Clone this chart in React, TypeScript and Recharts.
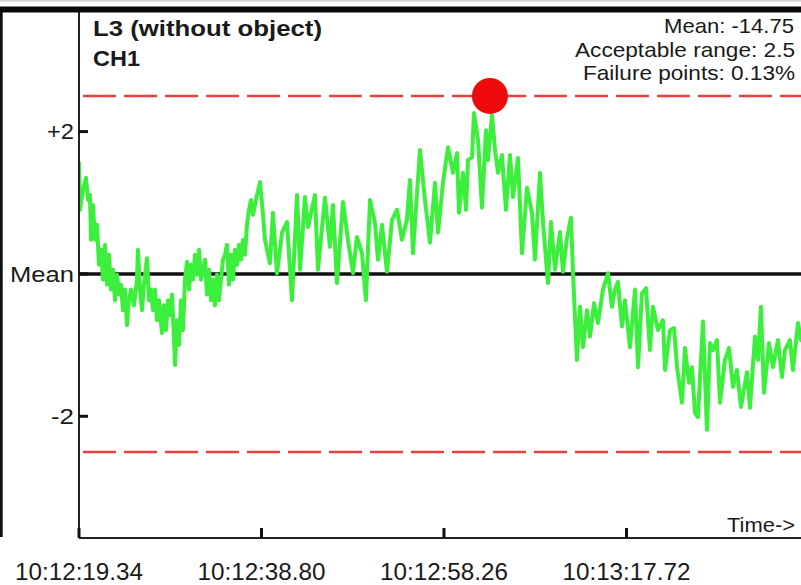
import React from "react";
import { LineChart, Line, XAxis, YAxis, ReferenceLine, ReferenceDot } from "recharts";

// elapsed seconds since 10:12:19.34
const sampleTimes = [
  0, 0.11, 0.43, 0.75, 0.96, 1.17, 1.28, 1.49, 1.71, 1.92, 2.13, 2.35, 2.56, 2.77, 2.99, 3.2, 3.41, 3.63, 3.84, 4.05,
  4.26, 4.48, 4.69, 4.9, 5.12, 5.33, 5.54, 5.86, 6.18, 6.29, 6.5, 6.72, 6.93, 7.25, 7.46, 7.68, 7.89, 8.1, 8.32, 8.53,
  8.85, 9.06, 9.28, 9.49, 9.7, 9.92, 10.13, 10.24, 10.45, 10.66, 10.88, 11.09, 11.3, 11.52, 11.73, 11.94, 12.16, 12.37, 12.58, 12.8,
  13.01, 13.22, 13.44, 13.65, 13.86, 14.08, 14.29, 14.5, 14.71, 14.93, 15.14, 15.35, 15.57, 15.78, 15.99, 16.21, 16.42, 16.63, 16.85, 17.06,
  17.27, 17.49, 17.7, 17.91, 18.13, 18.34, 18.55, 18.87, 19.3, 19.62, 19.83, 20.36, 20.68, 21.11, 21.65, 22.18, 22.71, 23.25, 23.57, 24.1,
  24.42, 25.16, 25.48, 26.23, 26.76, 27.08, 27.51, 28.15, 28.68, 29.22, 29.64, 30.18, 30.6, 31.03, 31.56, 31.88, 32.31, 32.84, 33.38, 33.91,
  34.44, 34.97, 35.29, 35.61, 36.36, 36.89, 37.43, 37.96, 38.28, 38.81, 39.35, 39.88, 40.31, 40.52, 40.95, 41.27, 41.48, 41.91, 42.12, 42.55,
  42.97, 43.4, 43.61, 44.04, 44.36, 44.68, 45.1, 45.53, 45.96, 46.28, 46.81, 47.24, 47.77, 48.3, 48.62, 49.16, 49.48, 50.01, 50.33, 50.76,
  51.29, 51.61, 52.04, 52.46, 52.68, 53.1, 53.42, 53.74, 54.17, 54.49, 54.92, 55.34, 55.87, 56.41, 56.83, 57.15, 57.47, 57.9, 58.22, 58.75,
  59.29, 59.61, 60.03, 60.46, 60.88, 61.2, 61.74, 62.27, 62.49, 63.02, 63.45, 63.77, 64.3, 64.62, 65.04, 65.36, 65.68, 66.0, 66.54, 66.96,
  67.28, 67.6, 68.03, 68.35, 68.88, 69.31, 69.74, 70.16, 70.59, 71.23, 71.55, 72.08, 72.4, 72.72, 73.04, 73.58, 74.0, 74.53, 74.96, 75.28,
  75.81, 76.13, 76.67, 76.99,
];

// deviation from mean (in acceptable-range units)
const deviation = [
  1.56, 0.9, 1.18, 1.35, 1.04, 1.11, 0.48, 0.97, 0.48, 0.69, 0.13, 0.34, -0.08, 0.41, -0.15, 0.27, -0.22, 0.06, -0.37, -0.01,
  -0.29, -0.15, -0.51, -0.22, -0.72, -0.37, -0.22, -0.44, -0.08, 0.34, -0.22, -0.51, -0.15, 0.22, -0.37, -0.22, -0.51, -0.22, -0.65, -0.37,
  -0.83, -0.44, -0.79, -0.37, -0.58, -0.29, -0.93, -1.28, -0.65, -1.0, -0.37, -0.79, -0.08, 0.17, -0.22, 0.13, -0.08, 0.27, -0.01, 0.34,
  -0.08, 0.06, 0.2, -0.29, 0.06, -0.37, -0.08, -0.44, -0.01, -0.37, -0.08, 0.2, 0.27, 0.41, -0.15, 0.27, -0.08, 0.34, 0.13, 0.41,
  0.2, 0.48, 0.27, 0.69, 0.9, 1.04, 0.83, 1.04, 1.29, 0.83, 0.48, 0.15, 0.86, 0.01, 0.58, 0.73, -0.37, 1.11, 0.06, 1.08,
  0.66, 1.11, 0.06, 1.07, 0.38, 0.97, -0.13, 1.01, 0.48, 0.01, 0.52, 0.29, -0.37, 1.04, 0.72, 0.2, 0.69, 0.03, 0.76, 0.9,
  0.48, 0.76, 1.32, 0.29, 1.74, 1.04, 0.44, 1.28, 0.58, 1.28, 1.78, 1.42, 1.7, 0.86, 1.42, 0.9, 1.6, 1.64, 2.26, 1.88,
  0.93, 2.02, 1.6, 2.23, 1.74, 1.42, 1.67, 0.9, 1.67, 1.08, 1.63, 0.29, 1.21, 0.86, 0.2, 1.42, 0.72, -0.13, 0.73, 0.06,
  0.59, 0.03, 0.51, 0.79, 0.01, -1.21, -0.46, -1.03, -0.51, -0.88, -0.41, -0.69, -0.22, 0.01, -0.46, -0.22, -0.11, -0.74, -0.37, -1.03,
  -0.22, -1.31, -0.27, -0.2, -1.07, -0.46, -0.79, -0.65, -1.35, -0.79, -0.76, -1.31, -1.81, -1.04, -1.53, -1.31, -1.95, -2.01, -0.67, -2.19,
  -0.97, -1.07, -0.93, -1.81, -1.21, -1.04, -1.59, -1.35, -1.87, -1.38, -1.88, -0.88, -1.21, -0.46, -1.67, -0.97, -1.31, -0.93, -1.45, -1.07,
  -0.93, -1.35, -0.69, -0.93,
];

const tickTimes = [0, 19.46, 38.92, 58.38];
const tickLabels = ["10:12:19.34", "10:12:38.80", "10:12:58.26", "10:13:17.72"];
const yTicks = [-2, 0, 2];
const yTickLabels = ["-2", "Mean", "+2"];
const yTickWidths = [23, 64, 27];
const acceptableRange = 2.5;
const failureTime = 43.82;
const failureValue = 2.5;
const infoLines = ["Mean: -14.75", "Acceptable range: 2.5", "Failure points: 0.13%"];
const titleLines = ["L3 (without object)", "CH1"];

const data = sampleTimes.map((t, i) => ({ t, v: deviation[i] }));

const FONT = "'Liberation Sans', Arial, Helvetica, sans-serif";

const YTick = (props: any) => {
  const { x, y, payload } = props;
  const idx = yTicks.indexOf(payload.value);
  return (
    <g>
      <line x1={x} x2={x + 9} y1={y} y2={y} stroke="#111" strokeWidth={3} />
      <text
        x={x - 5}
        y={y}
        dy="0.36em"
        textAnchor="end"
        fontSize={22}
        fontFamily={FONT}
        fill="#1a1a1a"
        textLength={yTickWidths[idx]}
        lengthAdjust="spacingAndGlyphs"
      >
        {yTickLabels[idx]}
      </text>
    </g>
  );
};

const XTick = (props: any) => {
  const { x, y, payload } = props;
  const idx = tickTimes.indexOf(payload.value);
  return (
    <g>
      <line x1={x} x2={x} y1={y - 10} y2={y} stroke="#111" strokeWidth={3} />
      <text
        x={x}
        y={y + 42}
        textAnchor="middle"
        fontSize={23}
        fontFamily={FONT}
        fill="#1a1a1a"
        textLength={128}
        lengthAdjust="spacingAndGlyphs"
      >
        {tickLabels[idx]}
      </text>
    </g>
  );
};

export default function App() {
  return (
    <div style={{ position: "fixed", left: 0, top: 0, width: 801, height: 585, background: "#fff", overflow: "hidden" }}>
      <LineChart width={801} height={585} data={data} margin={{ top: 12, right: 0, left: 0, bottom: 0 }}>
        <XAxis
          type="number"
          dataKey="t"
          domain={[0, 76.99]}
          ticks={tickTimes}
          allowDataOverflow
          height={47}
          tickSize={0}
          tickMargin={0}
          tick={<XTick />}
          axisLine={{ stroke: "#222", strokeWidth: 2 }}
          tickLine={false}
        />
        <YAxis
          type="number"
          domain={[-3.71, 3.68]}
          ticks={yTicks}
          allowDataOverflow
          width={79}
          tickSize={0}
          tickMargin={0}
          tick={<YTick />}
          axisLine={{ stroke: "#222", strokeWidth: 2 }}
          tickLine={false}
        />
        <ReferenceLine y={acceptableRange} stroke="#e8413f" strokeWidth={2.5} strokeDasharray="33 8" strokeDashoffset={37} />
        <ReferenceLine y={-acceptableRange} stroke="#e8413f" strokeWidth={2.5} strokeDasharray="33 8" strokeDashoffset={37} />
        <ReferenceLine y={0} stroke="#111" strokeWidth={3.5} />
        <Line
          type="linear"
          dataKey="v"
          stroke="#3cef3c"
          strokeWidth={4}
          strokeLinejoin="round"
          strokeLinecap="round"
          dot={false}
          activeDot={false}
          isAnimationActive={false}
        />
        <ReferenceDot x={failureTime} y={failureValue} r={18} fill="#ee0a0a" stroke="none" />
      </LineChart>
      <svg width={801} height={585} style={{ position: "absolute", left: 0, top: 0, pointerEvents: "none" }}>
        <rect x={0} y={0} width={801} height={1.5} fill="#cfcfcf" />
        <rect x={0} y={6.5} width={801} height={6} fill="#0a0a0a" />
        <rect x={0} y={12} width={2.7} height={525} fill="#111" />
        <text x={93} y={36} fontSize={21.5} fontWeight="bold" fontFamily={FONT} fill="#1a1a1a" textLength={229} lengthAdjust="spacingAndGlyphs">
          {titleLines[0]}
        </text>
        <text x={93} y={66} fontSize={21.5} fontWeight="bold" fontFamily={FONT} fill="#1a1a1a" textLength={47} lengthAdjust="spacingAndGlyphs">
          {titleLines[1]}
        </text>
        <text x={794} y={33} textAnchor="end" fontSize={21} fontFamily={FONT} fill="#1a1a1a" textLength={130} lengthAdjust="spacingAndGlyphs">
          {infoLines[0]}
        </text>
        <text x={795} y={57} textAnchor="end" fontSize={21} fontFamily={FONT} fill="#1a1a1a" textLength={220} lengthAdjust="spacingAndGlyphs">
          {infoLines[1]}
        </text>
        <text x={795} y={80} textAnchor="end" fontSize={21} fontFamily={FONT} fill="#1a1a1a" textLength={212} lengthAdjust="spacingAndGlyphs">
          {infoLines[2]}
        </text>
        <text x={795} y={532} textAnchor="end" fontSize={21} fontFamily={FONT} fill="#1a1a1a" textLength={68} lengthAdjust="spacingAndGlyphs">
          Time-&gt;
        </text>
      </svg>
    </div>
  );
}
